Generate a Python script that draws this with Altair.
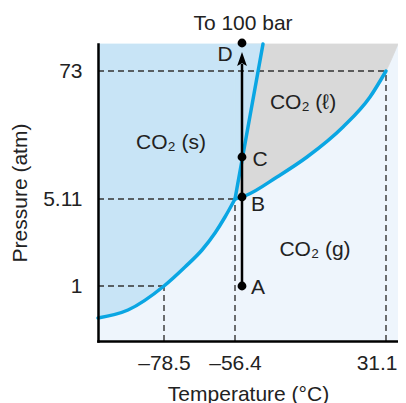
import altair as alt
import pandas as pd

# Schematic phase diagram of CO2 (not to scale): positions are in diagram units
W, H = 300, 297

x_tick_pos = [66, 137, 288]
x_tick_labels = ["\u201378.5", "\u201356.4", "31.1"]
y_tick_pos = [55, 142, 270]
y_tick_labels = ["1", "5.11", "73"]

# phase boundaries
sub_x = [0, 30, 66, 87, 104, 117, 127, 137]
sub_y = [23, 31, 55, 74, 91, 108, 124, 142]
vap_x = [137, 149, 179, 209, 245, 272, 288]
vap_y = [142, 146, 164, 184, 214, 244, 270]
melt_x = [137, 165]
melt_y = [142, 297]
sc_x = [288, 300]
sc_y = [270, 297]

# path A -> D
pt_names = ["A", "B", "C", "D"]
pt_x = [144, 144, 144, 144]
pt_y = [55, 144, 184, 298]
path_start, path_end, arrow_y = 55, 277, 282

lab_x = [160, 160, 162, 127]
lab_y = [53, 136, 181, 286]

phase_text = ["CO\u2082 (s)", "CO\u2082 (\u2113)", "CO\u2082 (g)", "To 100 bar"]
phase_x = [73, 205, 217, 145]
phase_y = [198, 238, 91, 317]

FONT = "Liberation Sans"
FS = 21
C_SOLID = "#c8e4f6"
C_GAS = "#eef5fc"
C_LIQ = "#d9d9d9"
C_CURVE = "#0aa6e3"
C_TEXT = "#222"

def lab_expr(pos, labels):
    return "[" + ",".join("'%s'" % l for l in labels) + "][indexof([" + ",".join(str(p) for p in pos) + "], datum.value)]"

x_axis = alt.Axis(values=x_tick_pos, labelExpr=lab_expr(x_tick_pos, x_tick_labels),
                  title="Temperature (\u00b0C)", ticks=False, grid=False,
                  domainColor="black", domainWidth=2.5, domainCap="square",
                  labelFont=FONT, labelFontSize=FS, labelColor=C_TEXT,
                  titleFont=FONT, titleFontSize=FS, titleFontWeight="normal", titleColor=C_TEXT,
                  labelPadding=11, titlePadding=10, labelFlush=15, labelFlushOffset=11,
                  labelOverlap=False, zindex=1)
y_axis = alt.Axis(values=y_tick_pos, labelExpr=lab_expr(y_tick_pos, y_tick_labels),
                  title="Pressure (atm)", ticks=False, grid=False,
                  domainColor="black", domainWidth=2.5, domainCap="square",
                  labelFont=FONT, labelFontSize=FS, labelColor=C_TEXT,
                  titleFont=FONT, titleFontSize=FS, titleFontWeight="normal", titleColor=C_TEXT,
                  labelPadding=16, titlePadding=12, labelFlush=False, labelOverlap=False, zindex=1)

xs = alt.Scale(domain=[0, W], nice=False, zero=False)
ys = alt.Scale(domain=[0, H], nice=False, zero=False)

def X(f):
    return alt.X(f, type="quantitative", scale=xs, axis=x_axis)

def Y(f):
    return alt.Y(f, type="quantitative", scale=ys, axis=y_axis)

gas_df = pd.DataFrame({"x": [0, W], "y": [0, 0], "top": [H, H]})
liq_df = pd.DataFrame({"x": vap_x + sc_x[1:], "y": vap_y + sc_y[1:], "top": [H] * (len(vap_x) + 1)})
sol_df = pd.DataFrame({"x": sub_x, "y": sub_y, "top": [H] * len(sub_x)})
wedge_df = pd.DataFrame({"x": melt_x, "y": melt_y, "top": [H, H]})

gas = alt.Chart(gas_df).mark_area(color=C_GAS).encode(x=X("x"), y=Y("y"), y2="top")
liq = alt.Chart(liq_df).mark_area(color=C_LIQ, interpolate="monotone", stroke=C_LIQ, strokeWidth=0.8).encode(
    x=X("x"), y=Y("y"), y2="top")
sol = alt.Chart(sol_df).mark_area(color=C_SOLID, interpolate="monotone", stroke=C_SOLID, strokeWidth=0.8).encode(
    x=X("x"), y=Y("y"), y2="top")
wedge = alt.Chart(wedge_df).mark_area(color=C_SOLID, stroke=C_SOLID, strokeWidth=0.8).encode(
    x=X("x"), y=Y("y"), y2="top")

# dashed guide lines to the key points
seg_rows = []
for kx, ky in zip(x_tick_pos, y_tick_pos):
    seg_rows.append({"x": 0, "x2": kx, "y": ky, "y2": ky})
    seg_rows.append({"x": kx, "x2": kx, "y": 0, "y2": ky})
seg_df = pd.DataFrame(seg_rows)
dashes = alt.Chart(seg_df).mark_rule(color="#333", strokeWidth=1.4, strokeDash=[6, 4]).encode(
    x=X("x"), x2="x2", y=Y("y"), y2="y2")

sub_line = alt.Chart(pd.DataFrame({"x": sub_x, "y": sub_y})).mark_line(
    color=C_CURVE, strokeWidth=3.5, interpolate="monotone", strokeCap="round").encode(x=X("x"), y=Y("y"))
vap_line = alt.Chart(pd.DataFrame({"x": vap_x, "y": vap_y})).mark_line(
    color=C_CURVE, strokeWidth=3.5, interpolate="monotone", strokeCap="round").encode(x=X("x"), y=Y("y"))
melt_line = alt.Chart(pd.DataFrame({"x": melt_x, "y": melt_y})).mark_line(
    color=C_CURVE, strokeWidth=3.5, strokeCap="round").encode(x=X("x"), y=Y("y"))

path_df = pd.DataFrame({"x": [pt_x[0]], "y": [path_start], "y2": [path_end]})
path = alt.Chart(path_df).mark_rule(color="black", strokeWidth=2.5).encode(x=X("x"), y=Y("y"), y2="y2")
arrow = alt.Chart(pd.DataFrame({"x": [pt_x[0]], "y": [arrow_y]})).mark_point(
    shape="M0,-1 L0.7,1 L0,0.6 L-0.7,1 Z", filled=True, color="black", opacity=1, size=196, strokeWidth=0
).encode(x=X("x"), y=Y("y"))

pts = alt.Chart(pd.DataFrame({"x": pt_x, "y": pt_y})).mark_circle(color="black", size=78, opacity=1).encode(
    x=X("x"), y=Y("y"))

pt_labels = alt.Chart(pd.DataFrame({"t": pt_names, "x": lab_x, "y": lab_y})).mark_text(
    font=FONT, fontSize=FS, color=C_TEXT, align="center", baseline="middle").encode(
    x=X("x"), y=Y("y"), text="t:N")
phase_labels = alt.Chart(pd.DataFrame({"t": phase_text, "x": phase_x, "y": phase_y})).mark_text(
    font=FONT, fontSize=FS, color=C_TEXT, align="center", baseline="middle").encode(
    x=X("x"), y=Y("y"), text="t:N")

chart = alt.layer(gas, liq, sol, wedge, dashes, sub_line, vap_line, melt_line, path, arrow, pts,
                  pt_labels, phase_labels).properties(
    width=W, height=H,
    autosize=alt.AutoSizeParams(type="none"),
    padding={"left": 90, "top": 36, "right": 0, "bottom": 62},
).configure_view(stroke="transparent", fill="white").configure(background="white")

chart.save("out.html", embed_options={"renderer": "svg", "actions": False})
